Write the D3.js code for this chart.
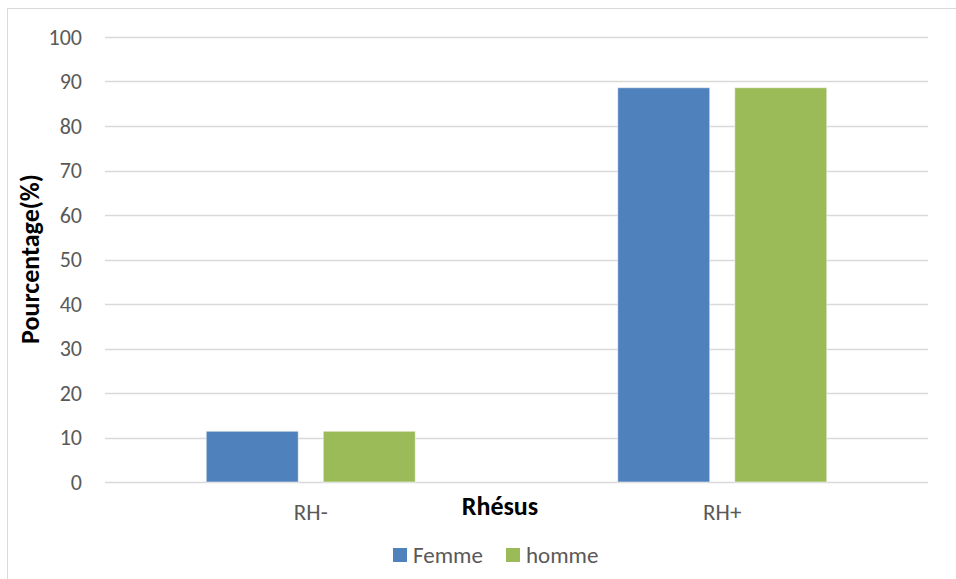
<!DOCTYPE html>
<html>
<head>
<meta charset="utf-8">
<script src="https://cdn.jsdelivr.net/npm/d3@7"></script>
<style>
  body { margin: 0; background: #fff; }
  text { font-family: Carlito, Lato, "Liberation Sans", sans-serif; }
</style>
</head>
<body>
<script>
var svgWidth = 956;
var svgHeight = 579;
var margin = {top: 37, right: 28, bottom: 97, left: 105};
var width = svgWidth - margin.left - margin.right;
var height = svgHeight - margin.top - margin.bottom;

// data
var categories = ["RH-", "RH+"];
var seriesNames = ["Femme", "homme"];
var femme = [11.4, 88.6];
var homme = [11.4, 88.6];
var yTicks = [0, 10, 20, 30, 40, 50, 60, 70, 80, 90, 100];
var colors = ["#4F81BD", "#9BBB59"];

var rows = categories.map(function(c, i) {
  return {cat: c, values: [femme[i], homme[i]]};
});

var svg = d3.select("body")
            .append("svg")
            .attr("width", svgWidth)
            .attr("height", svgHeight);

// outer chart border
svg.append("rect")
   .attr("x", 7.5)
   .attr("y", 8.5)
   .attr("width", 960)
   .attr("height", 600)
   .attr("fill", "none")
   .attr("stroke", "#d9d9d9");

var chartGroup = svg.append("g")
                    .attr("transform", `translate(${margin.left}, ${margin.top})`);

var yScale = d3.scaleLinear()
               .domain([0, 100])
               .range([height, 0]);

var x0 = d3.scaleBand()
           .domain(categories)
           .range([0, width]);

var x1 = d3.scaleBand()
           .domain(seriesNames)
           .range([0, 209])
           .paddingInner(0.214);

// gridlines
chartGroup.append("g")
          .selectAll("line")
          .data(yTicks)
          .enter()
          .append("line")
          .attr("x1", 0)
          .attr("x2", width)
          .attr("y1", d => Math.round(yScale(d)) + 0.5)
          .attr("y2", d => Math.round(yScale(d)) + 0.5)
          .attr("stroke", "#d9d9d9")
          .attr("stroke-width", 1.3);

var font = "Carlito, Lato, 'Liberation Sans', sans-serif";

// y axis labels
var leftAxis = d3.axisLeft(yScale).tickValues(yTicks).tickSize(0).tickPadding(23);
var yAxis = chartGroup.append("g").call(leftAxis);
yAxis.select(".domain").remove();
yAxis.selectAll("text")
     .attr("fill", "#595959")
     .style("font-size", "22px")
     .style("font-family", font);

// bars
var groups = chartGroup.selectAll("g.cat")
                       .data(rows)
                       .enter()
                       .append("g")
                       .attr("class", "cat")
                       .attr("transform", d => `translate(${x0(d.cat) + x0.bandwidth() / 2 - 104.5}, 0)`);

groups.selectAll("rect")
      .data(d => d.values.map((v, i) => ({name: seriesNames[i], value: v, i: i})))
      .enter()
      .append("rect")
      .attr("x", d => x1(d.name))
      .attr("y", d => yScale(d.value))
      .attr("width", x1.bandwidth())
      .attr("height", d => height - yScale(d.value))
      .attr("fill", d => colors[d.i])
      .attr("stroke", "#ffffff")
      .attr("stroke-opacity", 0.5)
      .attr("stroke-width", 1);

// x axis labels
var bottomAxis = d3.axisBottom(x0).tickSize(0).tickPadding(22);
var xAxis = chartGroup.append("g")
                      .attr("transform", `translate(0, ${height})`)
                      .call(bottomAxis);
xAxis.select(".domain").remove();
xAxis.selectAll("text")
     .attr("fill", "#595959")
     .style("font-size", "23px")
     .style("font-family", font);

// axis titles
svg.append("text")
   .attr("x", 500)
   .attr("y", 515)
   .attr("text-anchor", "middle")
   .attr("font-weight", "bold")
   .attr("font-size", "26px")
   .attr("fill", "#000")
   .text("Rhésus");

svg.append("text")
   .attr("transform", "rotate(-90)")
   .attr("x", -259)
   .attr("y", 39)
   .attr("text-anchor", "middle")
   .attr("font-weight", "bold")
   .attr("font-size", "26px")
   .attr("fill", "#000")
   .text("Pourcentage(%)");

// legend
var legendX = [393, 506];
var legend = svg.selectAll("g.legend")
                .data(seriesNames)
                .enter()
                .append("g")
                .attr("class", "legend")
                .attr("transform", (d, i) => `translate(${legendX[i]}, 548)`);

legend.append("rect")
      .attr("width", 14)
      .attr("height", 14)
      .attr("fill", (d, i) => colors[i]);

legend.append("text")
      .attr("x", 20)
      .attr("y", 15)
      .attr("font-size", "23px")
      .attr("fill", "#595959")
      .text(d => d);
</script>
</body>
</html>
